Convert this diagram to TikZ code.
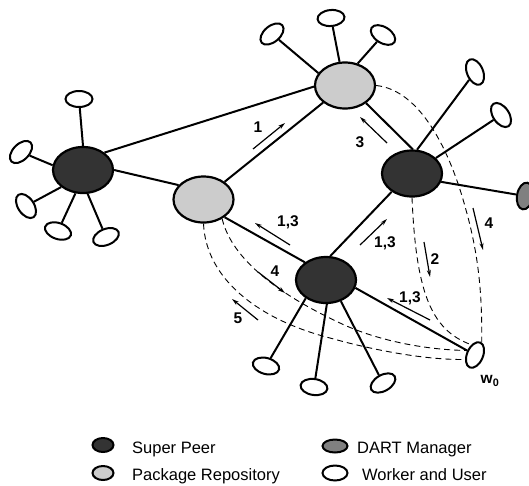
\documentclass[tikz,border=0pt]{standalone}
\usepackage{fontspec}
\setmainfont{Liberation Sans}
\usetikzlibrary{shapes.geometric,arrows.meta}
\definecolor{spfill}{HTML}{333333}
\definecolor{prfill}{HTML}{CCCCCC}
\definecolor{dmfill}{HTML}{808080}
\begin{document}
\begin{tikzpicture}[x=1pt,y=-1pt,
 hub/.style={ellipse,draw,line width=2.2pt,minimum width=60pt,minimum height=46pt,inner sep=0pt},
 sp/.style={hub,fill=spfill},
 pr/.style={hub,fill=prfill},
 wk/.style={ellipse,draw,line width=2pt,fill=white,minimum width=27pt,minimum height=16pt,inner sep=0pt},
 dm/.style={wk,fill=dmfill},
 link/.style={line width=2pt},
 dsh/.style={line width=0.9pt,dash pattern=on 6pt off 4pt},
 msg/.style={line width=1.2pt,-{Stealth[length=7pt,width=4pt]}},
 lbl/.style={font=\fontsize{15.5}{18}\selectfont\bfseries,inner sep=0pt},
 leg/.style={font=\fontsize{16.5}{20}\selectfont,anchor=base west,inner sep=0pt}
]
\useasboundingbox (0,0) rectangle (529,485);

% hubs
\node[sp] (L)  at (83,170) {};
\node[pr] (R1) at (203.5,199.5) {};
\node[pr] (T)  at (345,85.5) {};
\node[sp] (RS) at (412,173.5) {};
\node[sp] (B)  at (326,280) {};

% workers
\node[wk,rotate=0]   (wL1) at (79,99) {};
\node[wk,rotate=45]  (wL2) at (21,152) {};
\node[wk,rotate=-56] (wL3) at (26,206) {};
\node[wk,rotate=-19] (wL4) at (58,231) {};
\node[wk,rotate=22]  (wL5) at (106,237) {};
\node[wk,rotate=40]  (wT1) at (272,34) {};
\node[wk,rotate=5]   (wT2) at (331,18) {};
\node[wk,rotate=-32] (wT3) at (383,35) {};
\node[wk,rotate=-67] (wR1) at (475,72) {};
\node[wk,rotate=-56] (wR2) at (501,115) {};
\node[dm,rotate=80]  (dart) at (525,196) {};
\node[wk,rotate=-15] (wB1) at (266,366) {};
\node[wk,rotate=-8]  (wB2) at (314,387) {};
\node[wk,rotate=30]  (wB3) at (383,383) {};
\node[wk,rotate=67]  (w0) at (475,355) {};
\node[lbl] (w0lab) at (490,381) {w\textsubscript{0}};

% spokes
\draw[link] (L.90) -- (wL1);
\draw[link] (L.171) -- (wL2);
\draw[link] (L.218) -- (wL3);
\draw[link] (L.252) -- (wL4);
\draw[link] (L.281) -- (wL5);
\draw[link] (T.155) -- (wT1);
\draw[link] (T.103) -- (wT2);
\draw[link] (T.60) -- (wT3);
\draw[link] (RS.78) -- (wR1);
\draw[link] (RS.33) -- (wR2);
\draw[link] (RS.-16) -- (dart);
\draw[link] (B.222) -- (wB1);
\draw[link] (B.272) -- (wB2);
\draw[link] (B.305) -- (wB3);

% main links
\draw[link] (L.39) -- (T.182);
\draw[link] (L.east) -- (R1.150);
\draw[link] (R1.40) -- (T.218);
\draw[link] (T.-40) -- (RS.88);
\draw[link] (RS.222) -- (B.80);
\draw[link] (R1.-40) -- (B.140);
\draw[link] (B.-15) -- (w0);

% dashed paths
\draw[dsh] (T.east) .. controls (420,90) and (450,150) .. (466,210)
  .. controls (480,260) and (482,300) .. (w0.-5);
\draw[dsh] (RS.-90) .. controls (416,290) and (430,330) .. (w0.43);
\draw[dsh] (R1.-90) .. controls (206,280) and (260,320) .. (330,338)
  .. controls (380,352) and (430,360) .. (w0.137);
\draw[dsh] (R1.-46) .. controls (232,260) and (280,295) .. (340,323)
  .. controls (380,342) and (430,350) .. (w0.83);

% message arrows
\coordinate (a1s) at (253,149);  \coordinate (a1e) at (285,123);
\coordinate (a3s) at (387,143);  \coordinate (a3e) at (360,117);
\coordinate (aas) at (290,245);  \coordinate (aae) at (255,223);
\coordinate (abs) at (360,245);  \coordinate (abe) at (387,219);
\coordinate (acs) at (430,320);  \coordinate (ace) at (387,298);
\coordinate (a4s) at (258,272);  \coordinate (a4e) at (285,293);
\coordinate (a5s) at (258,320);  \coordinate (a5e) at (232,299);
\coordinate (a2s) at (424,242);  \coordinate (a2e) at (430,277);
\coordinate (a6s) at (473,208);  \coordinate (a6e) at (483,250);
\draw[msg] (a1s) -- (a1e);
\draw[msg] (a3s) -- (a3e);
\draw[msg] (aas) -- (aae);
\draw[msg] (abs) -- (abe);
\draw[msg] (acs) -- (ace);
\draw[msg] (a4s) -- (a4e);
\draw[msg] (a5s) -- (a5e);
\draw[msg] (a2s) -- (a2e);
\draw[msg] (a6s) -- (a6e);

\node[lbl] (l1) at (258,127) {1};
\node[lbl] (l3) at (360,142) {3};
\node[lbl] (l13a) at (288,222) {1,3};
\node[lbl] (l13b) at (385,243) {1,3};
\node[lbl] (l13c) at (410,298) {1,3};
\node[lbl] (l4a) at (275,271) {4};
\node[lbl] (l5) at (238,318) {5};
\node[lbl] (l2) at (435,259) {2};
\node[lbl] (l4b) at (489,223) {4};

% legend
\node[sp,minimum width=21pt,minimum height=14pt,line width=2pt] (lsp) at (103,445) {};
\node[pr,minimum width=21pt,minimum height=14pt,line width=2pt] (lpr) at (103,473) {};
\node[dm,minimum width=25pt,minimum height=13pt] (ldm) at (335,446) {};
\node[wk,minimum width=25pt,minimum height=15pt] (lwk) at (335,473) {};
\node[leg] (tsp) at (132,453) {Super Peer};
\node[leg] (tpr) at (132,480) {Package Repository};
\node[leg] (tdm) at (357,453) {DART Manager};
\node[leg] (twk) at (362,480) {Worker and User};
\end{tikzpicture}
\end{document}
